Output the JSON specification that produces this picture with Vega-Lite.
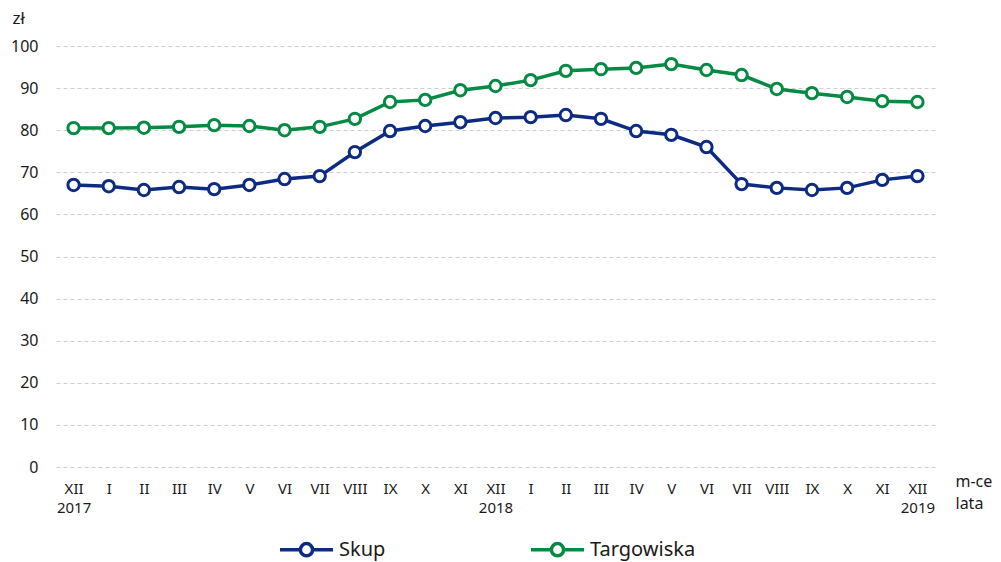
{
  "$schema": "https://vega.github.io/schema/vega-lite/v6.json",
  "width": 879,
  "height": 421,
  "autosize": {"type": "none"},
  "padding": {"left": 56, "top": 46, "right": 66, "bottom": 95},
  "background": "white",
  "config": {
    "font": "Noto Sans",
    "view": {"stroke": null}
  },
  "data": {
    "values": [
      {"m": "2017-12", "s": "Skup", "v": 67.0}, {"m": "2017-12", "s": "Targowiska", "v": 80.5},
      {"m": "2018-01", "s": "Skup", "v": 66.7}, {"m": "2018-01", "s": "Targowiska", "v": 80.5},
      {"m": "2018-02", "s": "Skup", "v": 65.8}, {"m": "2018-02", "s": "Targowiska", "v": 80.6},
      {"m": "2018-03", "s": "Skup", "v": 66.5}, {"m": "2018-03", "s": "Targowiska", "v": 80.8},
      {"m": "2018-04", "s": "Skup", "v": 66.0}, {"m": "2018-04", "s": "Targowiska", "v": 81.2},
      {"m": "2018-05", "s": "Skup", "v": 67.0}, {"m": "2018-05", "s": "Targowiska", "v": 81.0},
      {"m": "2018-06", "s": "Skup", "v": 68.4}, {"m": "2018-06", "s": "Targowiska", "v": 80.0},
      {"m": "2018-07", "s": "Skup", "v": 69.1}, {"m": "2018-07", "s": "Targowiska", "v": 80.8},
      {"m": "2018-08", "s": "Skup", "v": 74.8}, {"m": "2018-08", "s": "Targowiska", "v": 82.7},
      {"m": "2018-09", "s": "Skup", "v": 79.8}, {"m": "2018-09", "s": "Targowiska", "v": 86.7},
      {"m": "2018-10", "s": "Skup", "v": 81.0}, {"m": "2018-10", "s": "Targowiska", "v": 87.2},
      {"m": "2018-11", "s": "Skup", "v": 81.9}, {"m": "2018-11", "s": "Targowiska", "v": 89.5},
      {"m": "2018-12", "s": "Skup", "v": 82.9}, {"m": "2018-12", "s": "Targowiska", "v": 90.5},
      {"m": "2019-01", "s": "Skup", "v": 83.1}, {"m": "2019-01", "s": "Targowiska", "v": 91.9},
      {"m": "2019-02", "s": "Skup", "v": 83.6}, {"m": "2019-02", "s": "Targowiska", "v": 94.1},
      {"m": "2019-03", "s": "Skup", "v": 82.7}, {"m": "2019-03", "s": "Targowiska", "v": 94.5},
      {"m": "2019-04", "s": "Skup", "v": 79.8}, {"m": "2019-04", "s": "Targowiska", "v": 94.8},
      {"m": "2019-05", "s": "Skup", "v": 78.9}, {"m": "2019-05", "s": "Targowiska", "v": 95.7},
      {"m": "2019-06", "s": "Skup", "v": 76.0}, {"m": "2019-06", "s": "Targowiska", "v": 94.3},
      {"m": "2019-07", "s": "Skup", "v": 67.2}, {"m": "2019-07", "s": "Targowiska", "v": 93.1},
      {"m": "2019-08", "s": "Skup", "v": 66.3}, {"m": "2019-08", "s": "Targowiska", "v": 89.8},
      {"m": "2019-09", "s": "Skup", "v": 65.8}, {"m": "2019-09", "s": "Targowiska", "v": 88.8},
      {"m": "2019-10", "s": "Skup", "v": 66.3}, {"m": "2019-10", "s": "Targowiska", "v": 87.9},
      {"m": "2019-11", "s": "Skup", "v": 68.2}, {"m": "2019-11", "s": "Targowiska", "v": 86.9},
      {"m": "2019-12", "s": "Skup", "v": 69.1}, {"m": "2019-12", "s": "Targowiska", "v": 86.7}
    ]
  },
  "encoding": {
    "x": {
      "field": "m",
      "type": "ordinal",
      "scale": {"type": "point", "padding": 0.5},
      "axis": {
        "labelAngle": 0,
        "domain": false,
        "ticks": false,
        "grid": false,
        "labelPadding": 14,
        "labelFontSize": 15,
        "labelColor": "#1a1a1a",
        "labelLineHeight": 19,
        "labelBaseline": "top",
        "labelExpr": "slice(datum.value,5)=='12' ? ['XII', slice(datum.value,0,4)] : ['I','II','III','IV','V','VI','VII','VIII','IX','X','XI'][toNumber(slice(datum.value,5))-1]",
        "title": ["m-ce", "lata"],
        "titleFontSize": 16,
        "titleFontWeight": "normal",
        "titleColor": "#1a1a1a",
        "titleLineHeight": 22,
        "titleAlign": "left",
        "titleAnchor": "start",
        "titleBaseline": "top",
        "titleX": 899,
        "titleY": 6
      }
    },
    "y": {
      "field": "v",
      "type": "quantitative",
      "scale": {"domain": [0, 100], "nice": false, "zero": true},
      "axis": {
        "values": [0, 10, 20, 30, 40, 50, 60, 70, 80, 90, 100],
        "domain": false,
        "ticks": false,
        "grid": true,
        "gridColor": "#cfcfcf",
        "gridDash": [4, 3],
        "gridWidth": 1,
        "labelPadding": 18,
        "labelFontSize": 16,
        "labelColor": "#1a1a1a",
        "title": "zł",
        "titleAngle": 0,
        "titleFontSize": 17,
        "titleFontWeight": "normal",
        "titleColor": "#1a1a1a",
        "titleAlign": "left",
        "titleBaseline": "top",
        "titleX": -44,
        "titleY": -36
      }
    },
    "color": {
      "field": "s",
      "type": "nominal",
      "scale": {"domain": ["Skup", "Targowiska"], "range": ["#0d2b83", "#058a43"]},
      "legend": {
        "title": null,
        "orient": "none",
        "legendX": 222,
        "legendY": 475,
        "direction": "horizontal",
        "columns": 2,
        "columnPadding": 138,
        "labelFontSize": 20,
        "labelColor": "#1a1a1a",
        "labelOffset": 4,
        "symbolType": "M-1,0H-0.23M0.23,0H1M0.23,0A0.23,0.23 0 1 1 -0.23,0A0.23,0.23 0 1 1 0.23,0Z",
        "symbolSize": 2809,
        "symbolStrokeWidth": 3.5,
        "symbolFillColor": "white"
      }
    }
  },
  "layer": [
    {"mark": {"type": "line", "strokeWidth": 3.5}},
    {"mark": {"type": "point", "filled": false, "fill": "white", "fillOpacity": 1, "size": 130, "strokeWidth": 3, "opacity": 1}}
  ]
}
